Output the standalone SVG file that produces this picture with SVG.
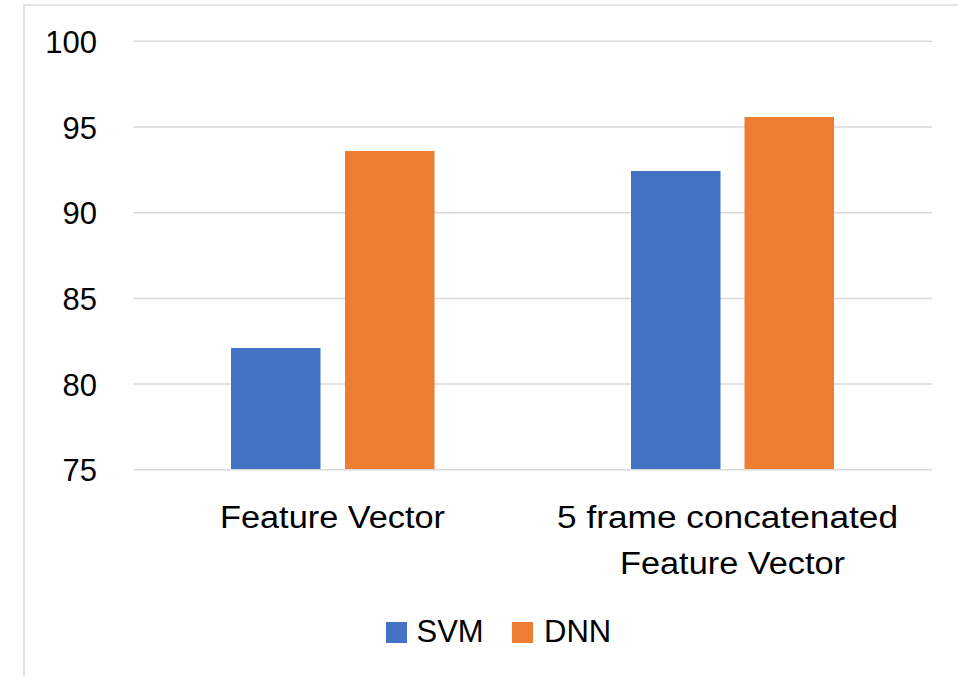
<svg xmlns="http://www.w3.org/2000/svg" width="958" height="676" viewBox="0 0 958 676">
<style>
.t{font-family:"Liberation Sans",Arial,sans-serif;font-size:31px;fill:#000}
.g{stroke:#d9d9d9;stroke-width:1.5;fill:none}
.svm{fill:#4472C4}
.dnn{fill:#ED7D31}
</style>
<rect x="0" y="0" width="958" height="676" fill="#fff"/>
<path class="g" d="M24 680 V5 H962" stroke-width="2"/>
<g id="grid">
<line class="g" x1="133" y1="41.3" x2="932" y2="41.3"/>
<line class="g" x1="133" y1="127" x2="932" y2="127"/>
<line class="g" x1="133" y1="212.7" x2="932" y2="212.7"/>
<line class="g" x1="133" y1="298.4" x2="932" y2="298.4"/>
<line class="g" x1="133" y1="384.1" x2="932" y2="384.1"/>
</g>
<g id="yaxis" text-anchor="end">
<text class="t" x="97" y="53">100</text>
<text class="t" x="97" y="138.5">95</text>
<text class="t" x="97" y="224">90</text>
<text class="t" x="97" y="310">85</text>
<text class="t" x="97" y="395.5">80</text>
<text class="t" x="97" y="481">75</text>
</g>
<g id="bars">
<rect class="svm" x="231" y="348" width="89.5" height="122"/>
<rect class="dnn" x="345" y="151" width="89.5" height="319"/>
<rect class="svm" x="631" y="171" width="89.5" height="299"/>
<rect class="dnn" x="744.5" y="117" width="89.5" height="353"/>
</g>
<line class="g" x1="133" y1="469.8" x2="932" y2="469.8"/>
<g id="xaxis" text-anchor="middle">
<text class="t" x="332.5" y="528" textLength="225" lengthAdjust="spacingAndGlyphs">Feature Vector</text>
<text class="t" x="727.5" y="528" textLength="341" lengthAdjust="spacingAndGlyphs">5 frame concatenated</text>
<text class="t" x="732.5" y="574" textLength="225" lengthAdjust="spacingAndGlyphs">Feature Vector</text>
</g>
<g id="legend">
<rect class="svm" x="386" y="622" width="21" height="21"/>
<text class="t" x="416.5" y="642">SVM</text>
<rect class="dnn" x="512" y="622" width="21" height="21"/>
<text class="t" x="544" y="642">DNN</text>
</g>
</svg>
